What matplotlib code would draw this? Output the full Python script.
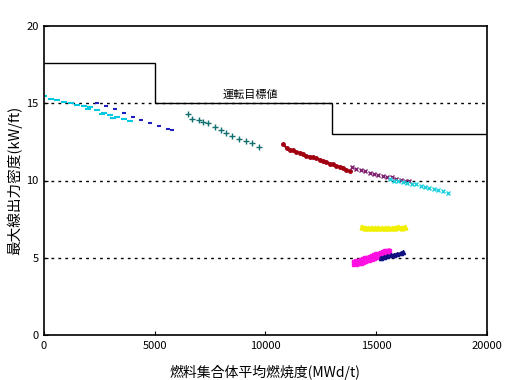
import matplotlib
matplotlib.use("Agg")
import matplotlib.pyplot as plt

plt.rcParams['font.family'] = ['Noto Sans CJK JP', 'DejaVu Sans']

# operating target limit (step line)
limit_edges = [0, 5000, 13000, 20000]
limit_vals = [17.6, 15.0, 13.0]

# cycle data
cyan_dash_x = [0, 300, 600, 900, 1200, 1500, 1800, 2100, 2400, 2700, 3000, 3300, 3600, 3900, 2000, 2600, 3100]
cyan_dash_y = [15.5, 15.25, 15.2, 15.1, 15.0, 14.9, 14.8, 14.75, 14.55, 14.4, 14.25, 14.1, 14.0, 13.85, 14.6, 14.3, 14.05]

navy_dash_x = [2400, 2800, 3200, 3600, 4000, 4400, 4800, 5200, 5600, 5800]
navy_dash_y = [15.0, 14.8, 14.6, 14.4, 14.1, 13.9, 13.7, 13.5, 13.35, 13.25]

teal_plus_x = [6500, 6700, 7000, 7200, 7400, 7700, 8000, 8200, 8500, 8800, 9100, 9400, 9700]
teal_plus_y = [14.3, 14.0, 13.9, 13.8, 13.7, 13.45, 13.25, 13.05, 12.9, 12.7, 12.55, 12.45, 12.2]

red_dot_x = [10800, 10950, 11100, 11250, 11400, 11550, 11700, 11850, 12000, 12150, 12300, 12450,
             12600, 12750, 12900, 13050, 13200, 13350, 13500, 13650, 13800]
red_dot_y = [12.35, 12.1, 12.0, 11.95, 11.85, 11.8, 11.7, 11.6, 11.55, 11.5, 11.45, 11.35,
             11.25, 11.2, 11.1, 11.05, 10.95, 10.9, 10.8, 10.7, 10.6]

purple_x_x = [13900, 14100, 14300, 14500, 14700, 14900, 15100, 15300, 15500, 15700, 15900, 16100, 16300, 16500]
purple_x_y = [10.85, 10.75, 10.65, 10.6, 10.5, 10.45, 10.35, 10.3, 10.25, 10.2, 10.1, 10.05, 10.0, 9.95]

cyan_x_x = [15600, 15800, 16000, 16200, 16400, 16600, 16800, 17000, 17200, 17400, 17600, 17800, 18000, 18250]
cyan_x_y = [10.1, 10.0, 9.95, 9.9, 9.85, 9.8, 9.75, 9.65, 9.6, 9.5, 9.45, 9.4, 9.3, 9.2]

yellow_x = [14350, 14500, 14650, 14800, 14950, 15100, 15250, 15400, 15550, 15700, 15850, 16000, 16150, 16300]
yellow_y = [7.0, 6.95, 6.9, 6.95, 6.9, 6.95, 6.9, 6.9, 6.95, 6.9, 6.95, 7.0, 6.95, 7.0]

magenta_x = [14050, 14150, 14250, 14350, 14450, 14550, 14650, 14750, 14850, 14950, 15050, 15150, 15250, 15350, 15450, 15550]
magenta_y = [4.65, 4.7, 4.75, 4.8, 4.85, 4.9, 4.95, 5.0, 5.05, 5.1, 5.15, 5.2, 5.25, 5.3, 5.35, 5.4]

navy_tri_x = [15200, 15350, 15500, 15650, 15800, 15950, 16100, 16200]
navy_tri_y = [5.0, 5.05, 5.1, 5.15, 5.2, 5.25, 5.3, 5.35]

fig = plt.figure(figsize=(5.23, 3.80), dpi=100)
ax = fig.add_axes([0.0841, 0.1184, 0.8470, 0.8132])

for yv in [5, 10, 15]:
    ax.axhline(yv, color='black', linestyle=(0, (2, 3)), linewidth=1.0, zorder=1)

ax.stairs(limit_vals, limit_edges, color='black', linewidth=1.0, baseline=None, zorder=2)
ax.text(9300, 15.2, '運転目標値', ha='center', va='bottom', fontsize=8)

ax.plot(cyan_dash_x, cyan_dash_y, linestyle='none', marker='_', color='#00c8e0', markersize=4, mew=1.5)
ax.plot(navy_dash_x, navy_dash_y, linestyle='none', marker='_', color='#2020c0', markersize=3, mew=1.5)
ax.plot(teal_plus_x, teal_plus_y, linestyle='none', marker='+', color='#107070', markersize=4, mew=1.0)
ax.plot(red_dot_x, red_dot_y, linestyle='-', marker='o', color='#a00010', markersize=2.5, linewidth=1.5)
ax.plot(purple_x_x, purple_x_y, linestyle='none', marker='x', color='#802070', markersize=3, mew=1.0)
ax.plot(cyan_x_x, cyan_x_y, linestyle='none', marker='x', color='#20d0e0', markersize=3, mew=1.0)
ax.plot(yellow_x, yellow_y, linestyle='-', marker='^', color='#f0f000', markersize=3.5, linewidth=2)
ax.plot(magenta_x, magenta_y, linestyle='-', marker='s', color='#ff10e0', markersize=4, linewidth=4)
ax.plot(navy_tri_x, navy_tri_y, linestyle='-', marker='^', color='#101080', markersize=3, linewidth=1.5)

ax.set_xlim(0, 20000)
ax.set_ylim(0, 20)
ax.set_xticks([0, 5000, 10000, 15000, 20000])
ax.set_yticks([0, 5, 10, 15, 20])
ax.tick_params(direction='in', length=3, labelsize=8, pad=4)
for s in ax.spines.values():
    s.set_linewidth(1.2)

ax.set_xlabel('燃料集合体平均燃焼度(MWd/t)', fontsize=10, labelpad=10)
ax.set_ylabel('最大線出力密度(kW/ft)', fontsize=10.5, labelpad=3)

fig.savefig('out.png', dpi=100)
